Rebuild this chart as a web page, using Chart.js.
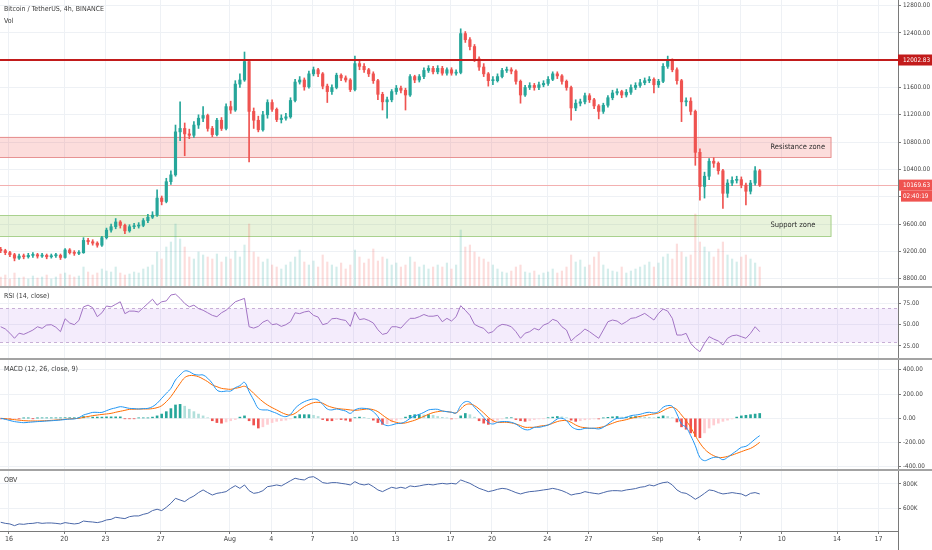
<!DOCTYPE html>
<html>
<head>
<meta charset="utf-8">
<script src="https://cdn.jsdelivr.net/npm/chart.js@4.4.1/dist/chart.umd.min.js"></script>
<style>
  html, body { margin: 0; padding: 0; background: #fff; }
  #wrap { position: relative; width: 932px; height: 550px; overflow: hidden; }
  canvas { position: absolute; left: 0; }
  .sep { position: absolute; left: 0; width: 932px; height: 2px; background: #a3a3a3; }
  .ttl { position: absolute; left: 4px; font: 7px 'Liberation Sans Narrow', 'DejaVu Sans Condensed', 'Liberation Sans', sans-serif; color: #3a3a3a; white-space: nowrap; }
</style>
</head>
<body>
<div id="wrap">
  <canvas id="cPrice" width="932" height="287" style="top:0"></canvas>
  <canvas id="cRsi" width="932" height="72" style="top:287px"></canvas>
  <canvas id="cMacd" width="932" height="111" style="top:359px"></canvas>
  <canvas id="cObv" width="932" height="80" style="top:470px"></canvas>
  <div class="sep" style="top:286px"></div>
  <div class="sep" style="top:358px"></div>
  <div class="sep" style="top:469px"></div>
  <div style="position:absolute;left:898px;top:531px;width:1px;height:19px;background:#777"></div>
  <div class="ttl" style="top:5px">Bitcoin / TetherUS, 4h, BINANCE</div>
  <div class="ttl" style="top:17px">Vol</div>
  <div class="ttl" style="top:292px">RSI (14, close)</div>
  <div class="ttl" style="top:365px">MACD (12, 26, close, 9)</div>
  <div class="ttl" style="top:476px">OBV</div>
</div>
<script>
// x axis: day of month counted from 1 July (Aug 1 = 32, Sep 1 = 63)
const tickDays = [16, 20, 23, 27, 32, 35, 38, 41, 44, 48, 51, 55, 58, 63, 66, 69, 72, 76, 79];
const tickLabels = ['16', '20', '23', '27', 'Aug', '4', '7', '10', '13', '17', '20', '24', '27', 'Sep', '4', '7', '10', '14', '17'];
const xMin = 15.35, xMax = 80.42;
const startDay = 15.4, stepDay = 1 / 3; // one candle every 8 hours

const firstOpen = 9230;
const closes = [9210,9180,9150,9100,9130,9120,9140,9150,9130,9140,
  9120,9135,9140,9110,9220,9180,9170,9180,9360,9340,
  9320,9290,9400,9510,9560,9630,9580,9500,9560,9570,
  9580,9650,9700,9730,9980,9930,10220,10320,10950,11000,
  10920,10900,11050,11150,11190,11000,10910,11120,11000,11320,
  11270,11650,11710,11980,11250,11120,10980,11200,11380,11280,
  11130,11150,11170,11410,11680,11710,11610,11800,11860,11800,
  11620,11540,11600,11780,11740,11710,11570,11950,11910,11860,
  11800,11700,11500,11390,11420,11540,11590,11560,11490,11760,
  11710,11760,11850,11880,11830,11880,11810,11860,11810,11820,
  12390,12300,12200,12020,11900,11800,11700,11700,11760,11850,
  11860,11840,11690,11490,11600,11630,11600,11640,11660,11720,
  11800,11770,11690,11600,11300,11370,11390,11480,11420,11330,
  11250,11340,11450,11520,11540,11490,11530,11600,11630,11670,
  11700,11720,11640,11690,11910,11990,11860,11700,11390,11400,
  11250,10650,10150,10300,10520,10490,10380,10050,10200,10240,
  10250,10170,10080,10200,10380,10169.63];
const highs = [9260,9230,9200,9170,9160,9160,9170,9180,9170,9170,
  9160,9160,9170,9160,9240,9240,9210,9210,9400,9390,
  9370,9340,9420,9540,9600,9680,9650,9600,9590,9610,
  9620,9680,9740,9780,10100,10010,10270,10380,11050,11390,
  11080,10990,11100,11200,11320,11210,11030,11150,11160,11360,
  11400,11700,11800,12120,12010,11300,11180,11250,11420,11420,
  11300,11200,11220,11450,11720,11760,11740,11840,11900,11880,
  11820,11650,11640,11810,11800,11770,11730,12060,11990,11950,
  11880,11830,11720,11530,11460,11570,11630,11620,11590,11790,
  11780,11790,11890,11920,11910,11920,11910,11890,11890,11860,
  12460,12420,12330,12230,12050,11950,11820,11760,11800,11880,
  11900,11890,11860,11710,11630,11670,11660,11680,11700,11760,
  11830,11830,11790,11710,11620,11420,11430,11520,11510,11440,
  11350,11370,11480,11560,11580,11560,11570,11640,11670,11720,
  11740,11760,11740,11720,11950,12060,12020,11890,11720,11450,
  11450,11270,10700,10360,10560,10570,10510,10400,10250,10290,
  10300,10290,10200,10240,10440,10400];
const lows = [9180,9150,9120,9060,9080,9090,9100,9110,9100,9110,
  9090,9100,9110,9080,9100,9160,9140,9150,9170,9300,
  9290,9260,9270,9380,9480,9530,9540,9460,9480,9530,
  9540,9560,9620,9680,9710,9880,9910,10180,10300,10820,
  10600,10850,10870,11000,11100,10960,10880,10890,10970,10980,
  11220,11250,11600,11690,10510,11000,10950,10960,11150,11250,
  11100,11080,11120,11150,11390,11650,11560,11590,11770,11760,
  11580,11380,11500,11580,11700,11680,11540,11550,11860,11820,
  11760,11660,11420,11270,11150,11390,11500,11520,11270,11470,
  11670,11680,11730,11820,11800,11800,11780,11780,11780,11780,
  11800,12260,12150,11980,11850,11760,11620,11640,11680,11740,
  11820,11800,11650,11370,11470,11570,11560,11570,11610,11630,
  11700,11730,11650,11560,11120,11260,11330,11360,11380,11290,
  11140,11220,11310,11420,11490,11450,11460,11500,11570,11600,
  11640,11670,11520,11600,11670,11880,11830,11650,11100,11330,
  11200,10460,9950,9980,10250,10430,10330,9830,9990,10160,
  10200,10130,9880,10040,10170,10150];
// volume, in the panel's own units
const volumes = [10,12,8,14,9,10,8,11,9,10,12,8,10,13,
  14,12,10,11,20,15,12,14,18,16,15,20,14,12,13,15,14,18,20,22,
  35,28,40,45,63,48,40,30,28,35,32,30,28,33,25,30,28,36,30,42,
  63,
  35,30,25,28,22,20,18,22,25,30,37,25,22,26,20,32,25,22,20,24,18,22,
  37,30,24,28,38,26,30,28,22,24,20,22,30,25,20,22,18,20,22,20,24,18,22,
  57,40,42,35,30,28,25,22,
  18,15,14,16,20,22,15,14,16,12,14,15,18,14,16,20,
  32,25,27,20,22,30,35,22,
  18,16,15,20,14,16,18,20,22,25,20,24,
  30,33,28,43,35,30,32,73,45,40,
  35,30,38,45,32,28,25,30,32,28,24,20];

const rsi = [47.6,45,40,34,40,38.6,41,43.7,47.6,45.7,
  49.6,50,47,41.8,57,52,50,55,71,73,
  70,59.4,64,72,71,74,77,63,66,66,
  65,70,75,80,73,77,78,85,86,81,
  75,71,73,69,67,64,61,59.4,64,67,
  72,77,79,81,47.6,46,48,53,55.5,50,
  51,48,50,53.5,64,63,65,66,61,59,
  50,51.6,57,57.5,56,55,48,65,56,57,
  55,52,44,38.6,40,47.6,47.6,46,52,57.5,
  57.5,59.4,62,60,60,61,53.5,57.5,54.3,59.4,
  72.4,67,61,50.4,47.6,45.7,40,41.8,47.6,50.4,
  49.6,47.6,41.8,34,40,41.8,45.7,43.7,49.6,51.6,
  56.3,54.3,47.6,43.7,30.8,35.9,39.8,44.9,41.8,37.8,
  34,43.7,53.5,55.5,54.3,50.4,53.5,57.5,58.2,60.6,
  63.3,59.4,55.5,63.3,68.4,66,57.5,37.8,37.8,39.8,
  28,22.2,18.2,28,35.9,33.1,30.8,26.1,34,37,
  37.8,35.9,34,39.8,47.6,41.8];
const rsiBand = [30, 70];

const macd = [0,-8,-18,-27,-32,-36,-33,-30,-27,-25,
  -22,-20,-17,-14,-10,-6,-5,5,27,38,
  49,49,49,63,77,86,96,90,82,80,
  77,80,82,96,124,165,206,247,316,357,
  390,385,363,357,357,330,288,233,220,225,
  225,253,269,297,220,151,82,69,69,55,
  41,22,14,33,82,115,137,151,159,151,
  115,77,69,77,69,60,41,69,82,82,
  77,55,14,-41,-60,-55,-44,-41,-27,0,
  19,33,49,69,74,74,60,55,50,44,
  105,137,132,91,50,8,-33,-47,-33,-27,
  -27,-33,-47,-74,-93,-93,-74,-74,-66,-55,
  -33,-5,0,-19,-66,-88,-93,-82,-82,-82,
  -88,-74,-47,-19,0,0,8,22,27,33,
  44,50,44,55,91,105,99,36,-47,-74,
  -143,-226,-322,-349,-336,-322,-322,-341,-322,-294,
  -267,-239,-231,-204,-171,-143];
const signal = [0,-3,-7,-11,-15,-19,-21,-22,-22,-21,
  -19,-17,-14,-11,-8,-5,-2,0,8,15,
  22,27,32,36,41,50,58,66,74,75,
  76,77,77,80,88,104,137,179,233,288,
  335,352,352,343,324,302,275,261,247,242,
  239,247,255,264,242,206,170,137,110,88,
  69,49,33,27,41,69,96,115,129,132,
  124,104,91,82,77,74,69,66,69,74,
  77,71,55,27,0,-22,-33,-41,-38,-27,
  -16,0,16,33,47,55,60,55,50,44,
  77,110,118,105,77,44,8,-19,-33,-33,
  -33,-38,-47,-60,-74,-74,-74,-66,-60,-55,
  -41,-27,-19,-19,-33,-55,-71,-77,-82,-82,
  -77,-69,-55,-41,-27,-19,-11,0,8,16,
  22,30,36,44,63,82,91,72,27,-19,
  -74,-143,-204,-253,-286,-308,-322,-322,-314,-303,
  -289,-275,-261,-248,-226,-198];
const hist = [-5,-5,-5,-3,-3,2,2,-2,2,3,
  3,3,3,3,5,5,5,5,15,10,
  10,10,10,12,12,12,12,-3,-3,-3,
  3,3,3,10,20,35,55,80,110,115,
  100,75,55,35,20,5,-20,-35,-40,-30,
  -20,-10,10,20,-20,-55,-80,-70,-50,-35,
  -25,-20,-15,-5,15,30,30,30,25,15,
  -10,-20,-20,-10,-10,-15,-25,5,10,8,
  0,-15,-35,-50,-45,-30,-15,-5,10,25,
  30,30,28,30,25,15,8,3,-5,-3,
  20,40,30,10,-20,-40,-50,-35,-15,-5,
  3,5,-10,-20,-25,-20,-10,-5,-3,5,
  10,15,12,5,-15,-25,-20,-12,-8,-5,
  -5,3,8,12,15,10,10,12,15,12,
  10,8,5,10,20,15,5,-30,-70,-90,
  -120,-150,-160,-120,-80,-55,-40,-25,-15,-5,
  10,20,25,30,35,40];

// OBV in thousands
const obv = [485,476,471,457,471,468,474,476,482,476,
  479,479,476,471,482,476,471,476,495,490,
  487,482,490,504,509,526,520,515,531,537,
  537,550,559,581,592,581,608,641,682,668,
  655,682,701,729,751,729,709,723,729,737,
  764,786,764,792,745,723,729,745,778,784,
  792,784,805,827,847,838,833,855,860,838,
  811,805,811,811,805,800,792,819,800,792,
  800,778,751,737,756,773,764,773,764,784,
  778,784,792,797,792,800,805,800,805,800,
  833,819,805,784,764,751,737,745,756,764,
  759,745,729,718,729,737,740,745,751,756,
  764,756,745,729,709,718,723,737,729,723,
  718,729,740,745,745,742,751,756,762,773,
  778,792,784,800,811,816,792,751,729,723,
  701,674,696,723,751,745,729,718,723,729,
  723,718,701,723,729,718];

const priceTicks = [8800, 9200, 9600, 10000, 10400, 10800, 11200, 11600, 12000, 12400, 12800];
const hiddenPriceTicks = [10000, 12000];
const rsiTicks = [25, 50, 75];
const macdTicks = [-400, -200, 0, 200, 400];
const obvTicks = [600, 800];

const keyLevel = 12002.83;
const lastPrice = 10169.63;
const countdown = '02:40:19';
const resistanceZone = [10580, 10880];
const supportZone = [9425, 9730];
const zoneEndDay = 75.6;
const zoneLabels = ['Resistance zone', 'Support zone'];

// ---------- chart setup ----------
const FONT = "'Liberation Sans Narrow', 'DejaVu Sans Condensed', 'Liberation Sans', sans-serif";
Chart.defaults.font.family = FONT;
Chart.defaults.font.size = 6.3;
Chart.defaults.color = '#444';
const GRID = '#eef1f5', AXIS = '#7a7a7a';
const UP = '#26a69a', DOWN = '#ef5350';

const times = closes.map((_, i) => startDay + i * stepDay);
const opens = closes.map((c, i) => i ? closes[i - 1] : firstOpen);
const isUp = closes.map((c, i) => c >= opens[i]);
const candleColors = isUp.map(u => u ? UP : DOWN);

function xScale(show) {
  return {
    type: 'linear', min: xMin, max: xMax, offset: false,
    grid: { color: GRID, offset: false, drawTicks: show, tickLength: 3, tickColor: AXIS },
    border: { display: show, color: AXIS },
    ticks: {
      display: show, autoSkip: false, maxRotation: 0, padding: 1, color: '#444', font: { size: 7 },
      callback: v => { const k = tickDays.indexOf(v); return k < 0 ? '' : tickLabels[k]; }
    },
    afterBuildTicks: s => { s.ticks = tickDays.map(v => ({ value: v })); },
    afterFit: s => { s.height = show ? 19 : 0; s.paddingLeft = 0; s.paddingRight = 0; }
  };
}
function yScale(min, max, ticks, fmt) {
  return {
    position: 'right', min, max,
    grid: { color: GRID, tickLength: 3, tickColor: AXIS },
    border: { color: AXIS },
    ticks: { autoSkip: false, padding: 2, color: '#444', callback: fmt },
    afterBuildTicks: s => { s.ticks = ticks.map(v => ({ value: v })); },
    afterFit: s => { s.width = 34; s.paddingTop = 0; s.paddingBottom = 0; }
  };
}
const common = {
  responsive: false, animation: false, events: [],
  layout: { padding: 0 },
  plugins: { legend: { display: false }, tooltip: { enabled: false } }
};

function axisBox(ctx, a, y, text, color, indent) {
  ctx.fillStyle = color;
  ctx.fillRect(a.right + indent, y - 5.5, 34 - indent, 11);
  ctx.fillStyle = '#fff';
  ctx.font = '6.3px ' + FONT;
  ctx.textBaseline = 'middle';
  ctx.textAlign = 'left';
  ctx.fillText(text, a.right + 5, y + 0.5);
}

const priceMarks = {
  id: 'priceMarks',
  beforeDatasetsDraw(chart) {
    const { ctx, chartArea: a, scales: { x, y } } = chart;
    const xe = x.getPixelForValue(zoneEndDay);
    ctx.save();
    [[resistanceZone, 'rgba(239,83,80,0.2)', '#e79393'], [supportZone, 'rgba(139,195,74,0.2)', '#a9d18e']].forEach(([z, fill, line], k) => {
      const y1 = y.getPixelForValue(z[1]), y2 = y.getPixelForValue(z[0]);
      ctx.fillStyle = fill;
      ctx.fillRect(a.left, y1, xe - a.left, y2 - y1);
      ctx.strokeStyle = line;
      ctx.lineWidth = 1;
      ctx.strokeRect(a.left - 1, Math.round(y1) + 0.5, xe - a.left + 0.5, Math.round(y2 - y1));
      ctx.fillStyle = '#2e2e2e';
      ctx.font = '7.5px ' + FONT;
      ctx.textBaseline = 'middle';
      ctx.fillText(zoneLabels[k], xe - 61, (y1 + y2) / 2);
    });
    const yl = Math.round(y.getPixelForValue(lastPrice)) + 0.5;
    ctx.strokeStyle = '#f3b0b0';
    ctx.beginPath(); ctx.moveTo(a.left, yl); ctx.lineTo(a.right, yl); ctx.stroke();
    ctx.restore();
  },
  afterDatasetsDraw(chart) {
    const { ctx, chartArea: a, scales: { y } } = chart;
    const yk = Math.round(y.getPixelForValue(keyLevel));
    ctx.save();
    ctx.fillStyle = '#c21b1b';
    ctx.fillRect(a.left, yk - 1, a.right - a.left, 2);
    ctx.restore();
  },
  afterDraw(chart) {
    const { ctx, chartArea: a, scales: { y } } = chart;
    ctx.save();
    axisBox(ctx, a, y.getPixelForValue(keyLevel), keyLevel.toFixed(2), '#c21b1b', 0);
    const yl = y.getPixelForValue(lastPrice);
    axisBox(ctx, a, yl, lastPrice.toFixed(2), '#ef5350', 1);
    axisBox(ctx, a, yl + 11, countdown, '#ef5350', 3);
    ctx.restore();
  }
};

new Chart(document.getElementById('cPrice'), {
  type: 'bar',
  data: {
    datasets: [
      { data: times.map((t, i) => ({ x: t, y: [opens[i], closes[i]] })), backgroundColor: candleColors,
        barThickness: 2.5, minBarLength: 1, grouped: false, order: 0 },
      { data: times.map((t, i) => ({ x: t, y: [lows[i], highs[i]] })), backgroundColor: candleColors,
        barThickness: 1, grouped: false, order: 1 },
      { data: times.map((t, i) => ({ x: t, y: volumes[i] })), yAxisID: 'yVol',
        backgroundColor: isUp.map(u => u ? 'rgba(38,166,154,0.2)' : 'rgba(239,83,80,0.2)'),
        barThickness: 1.5, grouped: false, order: 2 }
    ]
  },
  options: {
    ...common,
    scales: {
      x: xScale(false),
      y: yScale(8677, 12882, priceTicks, v => hiddenPriceTicks.includes(v) ? '' : v.toFixed(2)),
      yVol: { axis: 'y', display: false, min: 0, max: 287 }
    }
  },
  plugins: [priceMarks]
});

const rsiBandPlugin = {
  id: 'rsiBand',
  beforeDatasetsDraw(chart) {
    const { ctx, chartArea: a, scales: { y } } = chart;
    const yt = Math.round(y.getPixelForValue(rsiBand[1])) + 0.5, yb = Math.round(y.getPixelForValue(rsiBand[0])) + 0.5;
    ctx.save();
    ctx.fillStyle = 'rgba(171,110,232,0.13)';
    ctx.fillRect(a.left, yt, a.right - a.left, yb - yt);
    ctx.strokeStyle = '#c7afd6';
    ctx.setLineDash([3, 3]);
    [yt, yb].forEach(v => { ctx.beginPath(); ctx.moveTo(a.left, v); ctx.lineTo(a.right, v); ctx.stroke(); });
    ctx.restore();
  }
};

new Chart(document.getElementById('cRsi'), {
  type: 'line',
  data: {
    datasets: [{ data: times.map((t, i) => ({ x: t, y: rsi[i] })), borderColor: '#a274c4', borderWidth: 1,
      pointRadius: 0, tension: 0 }]
  },
  options: { ...common, scales: { x: xScale(false), y: yScale(9.6, 94.4, rsiTicks, v => v.toFixed(2)) } },
  plugins: [rsiBandPlugin]
});

const histColors = hist.map((h, i) => {
  const prev = i ? hist[i - 1] : 0;
  if (h >= 0) return h >= prev ? '#26a69a' : '#b2dfdb';
  return h <= prev ? '#ef5350' : '#ffcdd2';
});

new Chart(document.getElementById('cMacd'), {
  type: 'bar',
  data: {
    datasets: [
      { type: 'line', data: times.map((t, i) => ({ x: t, y: macd[i] })), borderColor: '#2196f3', borderWidth: 1,
        pointRadius: 0, tension: 0.4, order: 0 },
      { type: 'line', data: times.map((t, i) => ({ x: t, y: signal[i] })), borderColor: '#ff6d00', borderWidth: 1,
        pointRadius: 0, tension: 0.4, order: 1 },
      { data: times.map((t, i) => ({ x: t, y: hist[i] })), backgroundColor: histColors, barThickness: 2,
        grouped: false, order: 2 }
    ]
  },
  options: { ...common, scales: { x: xScale(false), y: yScale(-426, 489, macdTicks, v => v.toFixed(2)) } }
});

new Chart(document.getElementById('cObv'), {
  type: 'line',
  data: {
    datasets: [{ data: times.map((t, i) => ({ x: t, y: obv[i] })), borderColor: '#4a67a8', borderWidth: 1,
      pointRadius: 0, tension: 0 }]
  },
  options: { ...common, scales: { x: xScale(true), y: yScale(413, 915, obvTicks, v => v + 'K') } }
});
</script>
</body>
</html>
